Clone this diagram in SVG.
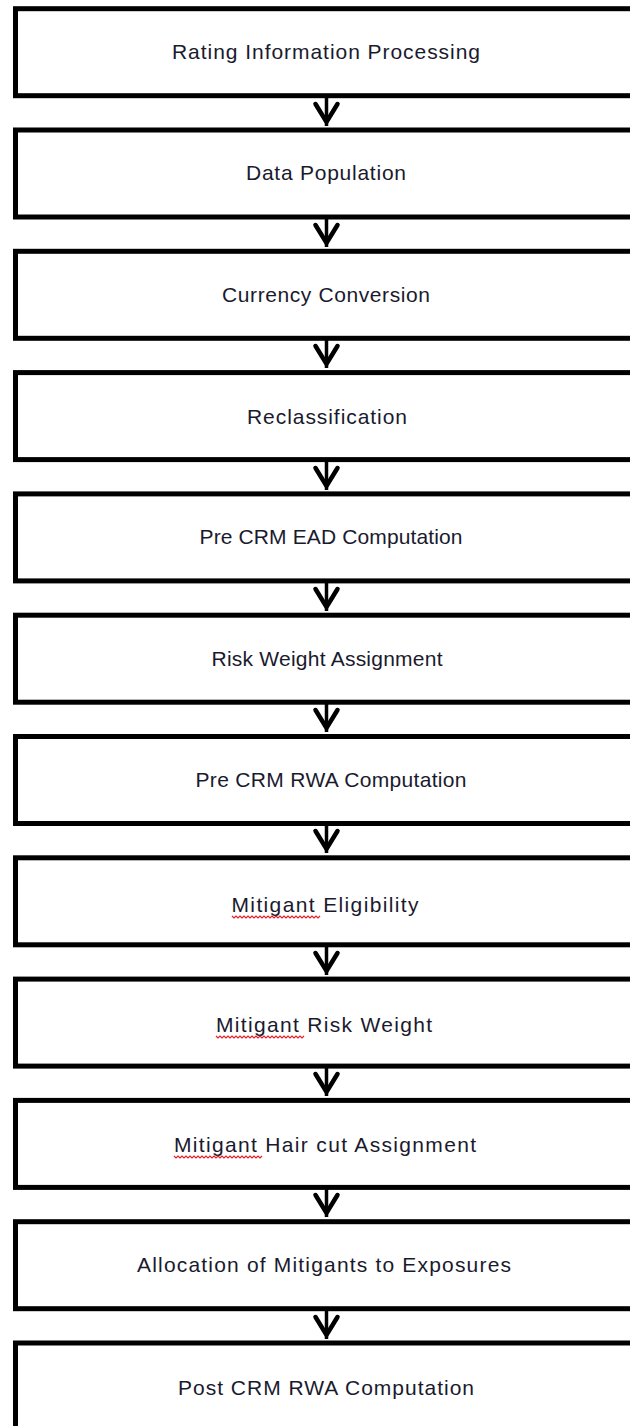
<svg xmlns="http://www.w3.org/2000/svg" width="630" height="1426" viewBox="0 0 630 1426">
<style>
.box{fill:#fff;stroke:#000;stroke-width:5}
.lbl{font-family:"Liberation Sans",Arial,sans-serif;font-size:21px;fill:#1a1a2e;text-anchor:middle}
.ln{stroke:#000;stroke-width:3.5;fill:none}
.hd{stroke:#000;stroke-width:4.5;fill:none;stroke-linecap:round;stroke-linejoin:miter}
.sq{stroke:#e0202a;stroke-width:1.2;fill:none}
</style>
<defs>
<g id="arr">
<line class="ln" x1="0" y1="0" x2="0" y2="30"/>
<polyline class="hd" points="-11,8 0,26 11,8"/>
</g>
</defs>
<rect width="630" height="1426" fill="#fff"/>
<g id="connectors">
<use href="#arr" x="326.5" y="96"/>
<use href="#arr" x="326.5" y="217"/>
<use href="#arr" x="326.5" y="338"/>
<use href="#arr" x="326.5" y="460"/>
<use href="#arr" x="326.5" y="581"/>
<use href="#arr" x="326.5" y="702"/>
<use href="#arr" x="326.5" y="823"/>
<use href="#arr" x="326.5" y="945"/>
<use href="#arr" x="326.5" y="1066"/>
<use href="#arr" x="326.5" y="1187"/>
<use href="#arr" x="326.5" y="1309"/>
</g>
<g id="n1"><rect class="box" x="15.5" y="8.7" width="640" height="87"/><text class="lbl" x="326" y="59" textLength="308">Rating Information  Processing</text></g>
<g id="n2"><rect class="box" x="15.5" y="130" width="640" height="87"/><text class="lbl" x="326" y="180" textLength="160">Data Population</text></g>
<g id="n3"><rect class="box" x="15.5" y="251.3" width="640" height="87"/><text class="lbl" x="326" y="302" textLength="208">Currency  Conversion</text></g>
<g id="n4"><rect class="box" x="15.5" y="372.6" width="640" height="87"/><text class="lbl" x="327" y="424" textLength="160">Reclassification</text></g>
<g id="n5"><rect class="box" x="15.5" y="493.9" width="640" height="87"/><text class="lbl" x="331" y="544" textLength="263">Pre CRM EAD Computation</text></g>
<g id="n6"><rect class="box" x="15.5" y="615.2" width="640" height="87"/><text class="lbl" x="327" y="666" textLength="231">Risk Weight Assignment</text></g>
<g id="n7"><rect class="box" x="15.5" y="736.5" width="640" height="87"/><text class="lbl" x="331" y="787" textLength="271">Pre CRM RWA Computation</text></g>
<g id="n8"><rect class="box" x="15.5" y="857.8" width="640" height="87"/><text class="lbl" x="325" y="912" textLength="187">Mitigant Eligibility</text><path class="sq" d="M232,916 l2,2 l2,-2 l2,2 l2,-2 l2,2 l2,-2 l2,2 l2,-2 l2,2 l2,-2 l2,2 l2,-2 l2,2 l2,-2 l2,2 l2,-2 l2,2 l2,-2 l2,2 l2,-2 l2,2 l2,-2 l2,2 l2,-2 l2,2 l2,-2 l2,2 l2,-2 l2,2 l2,-2 l2,2 l2,-2 l2,2 l2,-2 l2,2 l2,-2 l2,2 l2,-2 l2,2 l2,-2 l2,2 l2,-2 l2,2 l2,-2"/></g>
<g id="n9"><rect class="box" x="15.5" y="979.1" width="640" height="87"/><text class="lbl" x="324" y="1032" textLength="216">Mitigant Risk Weight</text><path class="sq" d="M216,1036 l2,2 l2,-2 l2,2 l2,-2 l2,2 l2,-2 l2,2 l2,-2 l2,2 l2,-2 l2,2 l2,-2 l2,2 l2,-2 l2,2 l2,-2 l2,2 l2,-2 l2,2 l2,-2 l2,2 l2,-2 l2,2 l2,-2 l2,2 l2,-2 l2,2 l2,-2 l2,2 l2,-2 l2,2 l2,-2 l2,2 l2,-2 l2,2 l2,-2 l2,2 l2,-2 l2,2 l2,-2 l2,2 l2,-2 l2,2 l2,-2"/></g>
<g id="n10"><rect class="box" x="15.5" y="1100.4" width="640" height="87"/><text class="lbl" x="325" y="1152" textLength="302">Mitigant Hair cut Assignment</text><path class="sq" d="M174,1156 l2,2 l2,-2 l2,2 l2,-2 l2,2 l2,-2 l2,2 l2,-2 l2,2 l2,-2 l2,2 l2,-2 l2,2 l2,-2 l2,2 l2,-2 l2,2 l2,-2 l2,2 l2,-2 l2,2 l2,-2 l2,2 l2,-2 l2,2 l2,-2 l2,2 l2,-2 l2,2 l2,-2 l2,2 l2,-2 l2,2 l2,-2 l2,2 l2,-2 l2,2 l2,-2 l2,2 l2,-2 l2,2 l2,-2 l2,2 l2,-2"/></g>
<g id="n11"><rect class="box" x="15.5" y="1221.7" width="640" height="87"/><text class="lbl" x="324" y="1272" textLength="374">Allocation of  Mitigants to Exposures</text></g>
<g id="n12"><rect class="box" x="15.5" y="1343" width="640" height="120"/><text class="lbl" x="326" y="1395" textLength="296">Post CRM RWA Computation</text></g>
</svg>
